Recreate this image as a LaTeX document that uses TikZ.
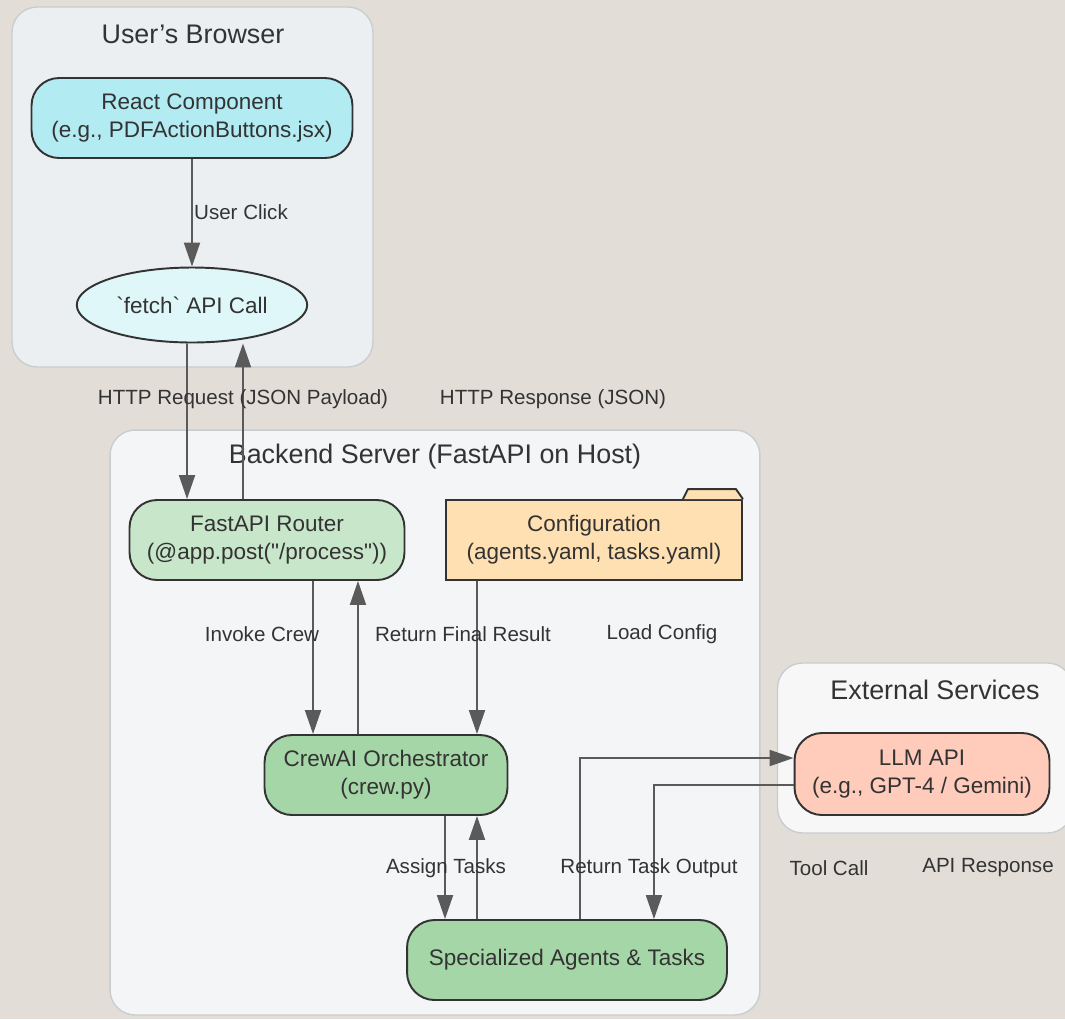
\documentclass[tikz,border=0pt]{standalone}
\usepackage{fontspec}
\setmainfont{Liberation Sans}
\usepackage{xcolor}
\usetikzlibrary{shapes.geometric, arrows.meta, positioning}
\definecolor{bgpage}{HTML}{E2DED7}
\definecolor{clbrowser}{HTML}{ECEFF1}
\definecolor{clbackend}{HTML}{F4F5F6}
\definecolor{clextern}{HTML}{F7F7F7}
\definecolor{clborder}{HTML}{CACDCF}
\definecolor{reactfill}{HTML}{B2EBF2}
\definecolor{fetchfill}{HTML}{E0F7FA}
\definecolor{routerfill}{HTML}{C8E6C9}
\definecolor{crewfill}{HTML}{A5D6A7}
\definecolor{cfgfill}{HTML}{FFE0B2}
\definecolor{llmfill}{HTML}{FFCCBC}
\definecolor{edgegray}{HTML}{5A5A5A}
\definecolor{inkdark}{HTML}{333333}

\begin{document}
\begin{tikzpicture}[
  x=0.02cm, y=-0.02cm,
  cluster/.style={
    rectangle,
    rounded corners=0.5cm,
    draw=clborder,
    line width=0.8pt
  },
  cltitle/.style={
    font=\fontsize{15.3}{18}\selectfont,
    text=inkdark
  },
  proc/.style={
    rectangle,
    rounded corners=0.55cm,
    draw=inkdark,
    line width=1.1pt,
    align=center,
    text=inkdark,
    font=\fontsize{12.8}{15.9}\selectfont
  },
  oval/.style={
    ellipse,
    draw=inkdark,
    line width=1.1pt,
    text=inkdark,
    font=\fontsize{12.8}{15.9}\selectfont
  },
  folder/.style={
    rectangle,
    draw=inkdark,
    line width=1.1pt,
    align=center,
    text=inkdark,
    font=\fontsize{12.8}{15.9}\selectfont
  },
  elabel/.style={
    font=\fontsize{11.7}{14}\selectfont,
    text=inkdark
  },
  arrow/.style={-{Triangle[length=0.48cm, width=0.32cm]}, edgegray, line width=1.1pt}
]
  \useasboundingbox[fill=bgpage] (0,0) rectangle (1065,1019);

  % Clusters
  \node[cluster, fill=clbrowser, minimum width=7.22cm, minimum height=7.2cm] (browser) at (192.5,187) {};
  \node[cluster, fill=clbackend, minimum width=13cm, minimum height=11.7cm] (backend) at (435,722.5) {};
  \node[cluster, fill=clextern, minimum width=5.9cm, minimum height=3.4cm] (external) at (925,748) {};
  \node[cltitle] (browsertitle) at (193,34) {User's Browser};
  \node[cltitle] (backendtitle) at (435,457) {Backend Server (FastAPI on Host)};
  \node[cltitle] (externaltitle) at (935,690) {External Services};

  % Browser side
  \node[proc, fill=reactfill, minimum width=6.42cm, minimum height=1.6cm] (react) at (192,118)
    {React Component\\(e.g., PDFActionButtons.jsx)};
  \node[oval, fill=fetchfill, minimum width=4.5cm, minimum height=1.5cm] (fetch) at (192,305)
    {\textasciigrave fetch\textasciigrave\ API Call};

  % Backend
  \node[proc, fill=routerfill, minimum width=5.5cm, minimum height=1.6cm] (router) at (267,540)
    {FastAPI Router\\(@app.post(\textquotedbl/process\textquotedbl))};
  \node[folder, fill=cfgfill, minimum width=5.92cm, minimum height=1.6cm] (config) at (594,540)
    {Configuration\\(agents.yaml, tasks.yaml)};
  \filldraw[fill=cfgfill, draw=inkdark, line width=1.1pt, line join=round]
    ([xshift=-1.2cm]config.north east) -- ++(5,-10) -- ++(48,0) -- ++(7,10);
  \node[proc, fill=crewfill, minimum width=4.86cm, minimum height=1.6cm] (crew) at (386,775)
    {CrewAI Orchestrator\\(crew.py)};
  \node[proc, fill=crewfill, minimum width=6.4cm, minimum height=1.6cm] (agents) at (567,960)
    {Specialized Agents \& Tasks};

  % External
  \node[proc, fill=llmfill, minimum width=5.1cm, minimum height=1.64cm] (llm) at (922,774)
    {LLM API\\(e.g., GPT-4 / Gemini)};

  % Connectors
  \draw[arrow] (react) -- (fetch);
  \draw[arrow] ([xshift=-0.1cm]fetch.south) -- ([xshift=-1.6cm]router.north);
  \draw[arrow] ([xshift=-0.48cm]router.north) -- ([xshift=1.02cm]fetch.south);
  \draw[arrow] ([xshift=0.92cm]router.south) -- ([xshift=-1.46cm]crew.north);
  \draw[arrow] ([xshift=-0.56cm]crew.north) -- ([xshift=1.82cm]router.south);
  \draw[arrow] ([xshift=-2.34cm]config.south) -- ([xshift=1.82cm]crew.north);
  \draw[arrow] ([xshift=1.18cm]crew.south) -- ([xshift=-2.44cm]agents.south |- agents.north);
  \draw[arrow] ([xshift=-1.8cm]agents.north) -- ([xshift=1.82cm]crew.south);
  \draw[arrow] ([xshift=0.26cm]agents.north) |- ([yshift=0.32cm]llm.west);
  \draw[arrow] ([yshift=-0.22cm]llm.west) -| ([xshift=1.74cm]agents.north);

  % Edge labels
  \node[elabel] (lclick) at (241,212) {User Click};
  \node[elabel] (lreq) at (243,399) {HTTP Request (JSON Payload)};
  \node[elabel] (lresp) at (553,399) {HTTP Response (JSON)};
  \node[elabel] (linvoke) at (262,634) {Invoke Crew};
  \node[elabel] (lfinal) at (463,634) {Return Final Result};
  \node[elabel] (lload) at (662,634) {Load Config};
  \node[elabel] (lassign) at (446,868) {Assign Tasks};
  \node[elabel] (ltaskout) at (649,868) {Return Task Output};
  \node[elabel] (ltool) at (829,868) {Tool Call};
  \node[elabel] (lapiresp) at (988,868) {API Response};
\end{tikzpicture}
\end{document}
